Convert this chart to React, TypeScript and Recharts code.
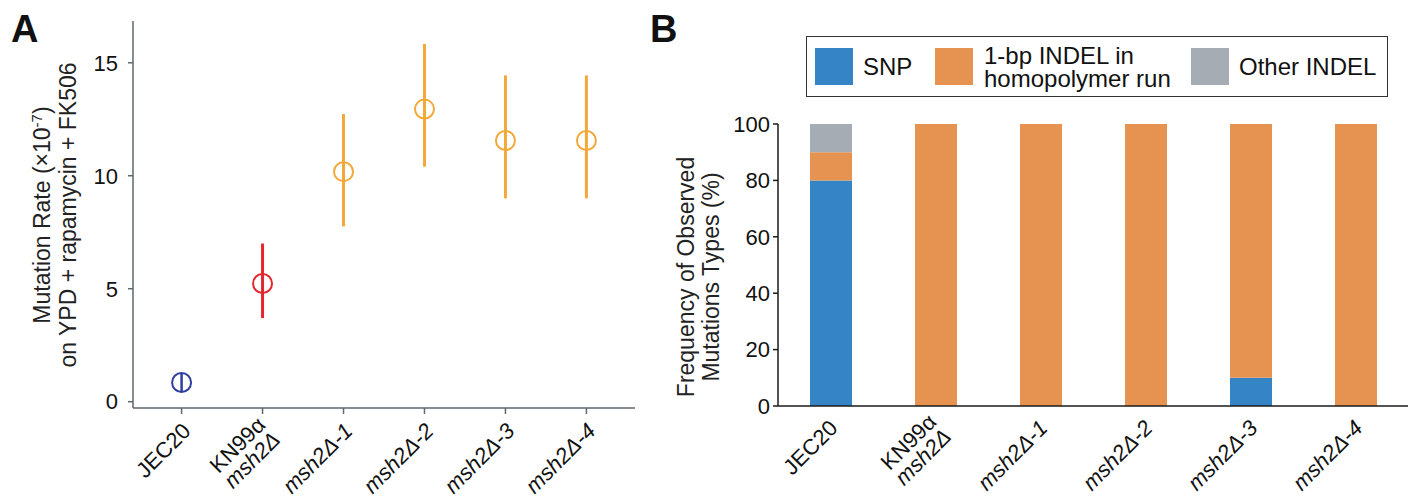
import React from 'react';
import { ScatterChart, Scatter, ErrorBar, BarChart, Bar, XAxis, YAxis } from 'recharts';

// strains shown on both panels (tick labels, one entry per line)
const strains = ['JEC20', 'KN99α msh2Δ', 'msh2Δ-1', 'msh2Δ-2', 'msh2Δ-3', 'msh2Δ-4'];
const strainLines = [['JEC20'], ['KN99α', 'msh2Δ'], ['msh2Δ-1'], ['msh2Δ-2'], ['msh2Δ-3'], ['msh2Δ-4']];

// panel A: mutation rate (x10^-7) with 95% CI
const rates = [0.85, 5.23, 10.18, 12.95, 11.56, 11.56];
const lowerCI = [0.45, 3.7, 7.76, 10.4, 9.0, 9.0];
const upperCI = [1.25, 7.0, 12.73, 15.83, 14.44, 14.44];
const groups = ['wt', 'ref', 'msh2', 'msh2', 'msh2', 'msh2'];
const groupColors: Record<string, string> = { wt: '#2f3f9f', ref: '#e2282e', msh2: '#f2a93a' };
const rateTicks = [0, 5, 10, 15];

// panel B: % of observed mutation types
const seriesNames = ['SNP', '1-bp INDEL in\nhomopolymer run', 'Other INDEL'];
const seriesColors = ['#3585c6', '#e69251', '#a6acb4'];
const snp = [80, 0, 0, 0, 10, 0];
const indel1bp = [10, 100, 100, 100, 90, 100];
const otherIndel = [10, 0, 0, 0, 0, 0];
const freqTicks = [0, 20, 40, 60, 80, 100];

const rateData = strains.map((s, i) => ({
  pos: i,
  strain: s,
  group: groups[i],
  rate: rates[i],
  err: [rates[i] - lowerCI[i], upperCI[i] - rates[i]],
}));

const freqData = strains.map((s, i) => ({
  strain: s,
  snp: snp[i],
  indel1bp: indel1bp[i],
  other: otherIndel[i],
}));

const FONT = '"Liberation Sans", Arial, Helvetica, sans-serif';
const GRAY_AXIS = '#5e686d';

function StrainTick(props: any) {
  const { x, y, payload, ox, oy, idx } = props;
  const i = idx(payload);
  const lines = strainLines[i] || [];
  const n = lines.length;
  return (
    <g transform={`translate(${x + ox},${y + oy})`}>
      <text transform="rotate(-45)" textAnchor="end" fontSize={22} fill="#111">
        {lines.map((ln: string, k: number) => (
          <tspan
            key={k}
            x={0}
            dy={k === 0 ? `${0.35 - (n - 1) * 0.4}em` : '0.95em'}
            fontStyle={ln.startsWith('msh2') ? 'italic' : 'normal'}
          >
            {ln}
          </tspan>
        ))}
      </text>
    </g>
  );
}

function AxisTitle({ cx, cy, gap, children }: any) {
  return (
    <text
      x={cx}
      y={cy}
      transform={`rotate(-90, ${cx}, ${cy})`}
      textAnchor="middle"
      fontSize={23}
      fill="#222"
    >
      {children(gap)}
    </text>
  );
}

function Circle(props: any) {
  const { cx, cy, payload } = props;
  return (
    <circle cx={cx} cy={cy} r={9.5} fill="none" stroke={groupColors[payload.group]} strokeWidth={2} />
  );
}

function PanelA() {
  const groupKeys = ['wt', 'ref', 'msh2'];
  return (
    <ScatterChart width={660} height={497} margin={{ top: 21, right: 25, left: 0, bottom: 0 }}>
      <XAxis
        type="number"
        dataKey="pos"
        domain={[-0.6, 5.6]}
        ticks={[0, 1, 2, 3, 4, 5]}
        allowDataOverflow
        height={89}
        stroke={GRAY_AXIS}
        strokeWidth={1.5}
        tickSize={6}
        tickMargin={0}
        tick={<StrainTick ox={5} oy={13} idx={(p: any) => p.value} />}
      />
      <YAxis
        type="number"
        dataKey="rate"
        domain={[-0.28, 16.85]}
        ticks={rateTicks}
        allowDataOverflow
        width={133}
        stroke={GRAY_AXIS}
        strokeWidth={1.5}
        tickSize={5}
        tickMargin={10}
        tick={{ fill: '#111', fontSize: 22 }}
        label={
          <AxisTitle cx={50} cy={215} gap={26}>
            {(gap: number) => [
              <tspan key="a" x={50} dy={0}>Mutation Rate (×10</tspan>,
              <tspan key="b" dy={-8} fontSize={15}>-7</tspan>,
              <tspan key="c" dy={8}>)</tspan>,
              <tspan key="d" x={50} dy={gap}>on YPD + rapamycin + FK506</tspan>,
            ]}
          </AxisTitle>
        }
      />
      {groupKeys.map((g) => (
        <Scatter
          key={g}
          data={rateData.filter((d) => d.group === g)}
          shape={<Circle />}
          isAnimationActive={false}
        >
          <ErrorBar
            dataKey="err"
            direction="y"
            width={0}
            stroke={groupColors[g]}
            strokeWidth={g === 'wt' ? 2.5 : 3}
            isAnimationActive={false}
          />
        </Scatter>
      ))}
    </ScatterChart>
  );
}

function PanelB() {
  const keys = ['snp', 'indel1bp', 'other'];
  return (
    <BarChart
      width={774}
      height={497}
      data={freqData}
      margin={{ top: 124, right: 6, left: 0, bottom: 0 }}
    >
      <XAxis
        dataKey="strain"
        height={91}
        stroke="#1a1a1a"
        strokeWidth={1.5}
        tickLine={false}
        tickSize={0}
        tickMargin={0}
        tick={<StrainTick ox={3} oy={18} idx={(p: any) => strains.indexOf(p.value)} />}
      />
      <YAxis
        domain={[0, 100]}
        ticks={freqTicks}
        allowDataOverflow
        width={138}
        stroke="#1a1a1a"
        strokeWidth={1.5}
        tickSize={5}
        tickMargin={3}
        tick={{ fill: '#111', fontSize: 22 }}
        label={
          <AxisTitle cx={54} cy={277} gap={25}>
            {(gap: number) => [
              <tspan key="a" x={54} dy={0}>Frequency of Observed</tspan>,
              <tspan key="b" x={54} dy={gap}>Mutations Types (%)</tspan>,
            ]}
          </AxisTitle>
        }
      />
      {keys.map((k, i) => (
        <Bar key={k} dataKey={k} stackId="m" fill={seriesColors[i]} barSize={42} isAnimationActive={false} />
      ))}
    </BarChart>
  );
}

function LegendBox() {
  const squareLeft = [8, 128, 384];
  const textLeft = [56, 177, 432];
  return (
    <div
      style={{
        position: 'absolute',
        left: 806,
        top: 36,
        width: 580,
        height: 59,
        border: '1.5px solid #333',
      }}
    >
      {seriesNames.map((name, i) => (
        <React.Fragment key={name}>
          <div
            style={{
              position: 'absolute',
              left: squareLeft[i],
              top: 11,
              width: 38,
              height: 37,
              background: seriesColors[i],
            }}
          />
          <div
            style={{
              position: 'absolute',
              left: textLeft[i],
              top: 0,
              height: 59,
              display: 'flex',
              alignItems: 'center',
              fontSize: 24,
              lineHeight: '23px',
              whiteSpace: 'pre-line',
              color: '#111',
            }}
          >
            {name}
          </div>
        </React.Fragment>
      ))}
    </div>
  );
}

export default function App() {
  return (
    <div
      style={{
        position: 'absolute',
        left: 0,
        top: 0,
        width: 1414,
        height: 497,
        background: '#fff',
        fontFamily: FONT,
        overflow: 'hidden',
      }}
    >
      <div style={{ position: 'absolute', left: 0, top: 0 }}>
        <PanelA />
      </div>
      <div style={{ position: 'absolute', left: 640, top: 0 }}>
        <PanelB />
      </div>
      <LegendBox />
      <div style={{ position: 'absolute', left: 11, top: 8, fontSize: 38, fontWeight: 700, color: '#111' }}>A</div>
      <div style={{ position: 'absolute', left: 650, top: 8, fontSize: 38, fontWeight: 700, color: '#111' }}>B</div>
    </div>
  );
}
